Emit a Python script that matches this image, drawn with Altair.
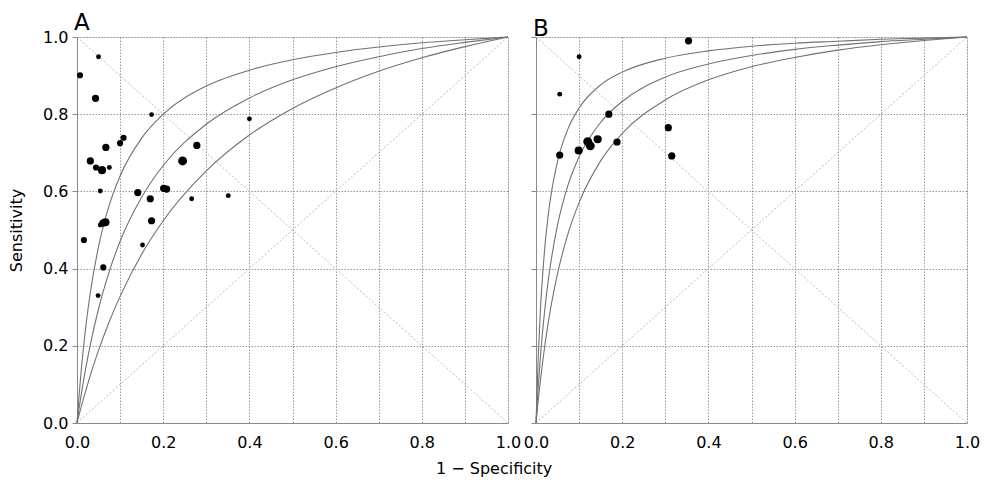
import altair as alt
import pandas as pd

# ---------------- data ----------------
# Panel A: study estimates (1 - specificity, sensitivity, relative weight)
a_fpr = [0.007, 0.050, 0.043, 0.173, 0.400, 0.108, 0.100, 0.067, 0.278, 0.031,
         0.245, 0.044, 0.058, 0.075, 0.054, 0.141, 0.201, 0.208, 0.170, 0.266,
         0.351, 0.173, 0.066, 0.060, 0.054, 0.016, 0.152, 0.061, 0.049]
a_sens = [0.901, 0.949, 0.841, 0.799, 0.788, 0.739, 0.725, 0.714, 0.719, 0.679,
          0.679, 0.662, 0.655, 0.662, 0.601, 0.597, 0.608, 0.606, 0.581, 0.581,
          0.589, 0.524, 0.520, 0.518, 0.513, 0.474, 0.461, 0.403, 0.330]
a_weight = [2, 1, 3, 1, 1, 2, 2, 3, 3, 3,
            5, 2, 4, 1, 1, 3, 3, 3, 3, 1,
            1, 3, 4, 3, 1, 2, 1, 2, 1]

# Panel B: study estimates
b_fpr = [0.354, 0.100, 0.055, 0.169, 0.307, 0.143, 0.120, 0.126, 0.188, 0.099, 0.055, 0.315]
b_sens = [0.990, 0.949, 0.852, 0.800, 0.765, 0.735, 0.729, 0.718, 0.728, 0.706, 0.694, 0.692]
b_weight = [3, 1, 1, 3, 3, 4, 5, 5, 3, 4, 3, 3]

# SROC curves (sensitivity read at these 1 - specificity values)
curve_fpr = [0, 0.005, 0.01, 0.02, 0.03, 0.05, 0.075, 0.1, 0.15, 0.2,
             0.3, 0.4, 0.5, 0.6, 0.7, 0.8, 0.9, 1.0]
a_curve_upper = [0, 0.074, 0.139, 0.246, 0.331, 0.457, 0.565, 0.640, 0.738, 0.800,
                 0.873, 0.914, 0.941, 0.960, 0.974, 0.985, 0.993, 1.0]
a_curve_mid = [0, 0.039, 0.075, 0.140, 0.198, 0.296, 0.393, 0.471, 0.585, 0.667,
               0.774, 0.842, 0.889, 0.923, 0.949, 0.970, 0.986, 1.0]
a_curve_lower = [0, 0.022, 0.043, 0.082, 0.120, 0.188, 0.263, 0.328, 0.437, 0.524,
                 0.653, 0.746, 0.815, 0.868, 0.911, 0.946, 0.975, 1.0]
b_curve_upper = [0, 0.167, 0.288, 0.449, 0.553, 0.678, 0.764, 0.816, 0.876, 0.909,
                 0.945, 0.964, 0.976, 0.984, 0.989, 0.994, 0.997, 1.0]
b_curve_mid = [0, 0.091, 0.168, 0.290, 0.382, 0.513, 0.619, 0.690, 0.779, 0.833,
               0.896, 0.930, 0.952, 0.968, 0.979, 0.988, 0.994, 1.0]
b_curve_lower = [0, 0.057, 0.108, 0.197, 0.271, 0.387, 0.493, 0.571, 0.679, 0.750,
                 0.837, 0.889, 0.923, 0.947, 0.966, 0.980, 0.991, 1.0]

# chance diagonal and its counter-diagonal
diag_x = [0, 1]
diag_y = [0, 1]
anti_y = [1, 0]

tick_values = [0.0, 0.1, 0.2, 0.3, 0.4, 0.5, 0.6, 0.7, 0.8, 0.9, 1.0]
panel_labels = ["A", "B"]
x_title = "1 \u2212 Specificity"
y_title = "Sensitivity"

# ---------------- chart ----------------
FONT = "DejaVu Sans"
FRAME = "#8a8a8a"
GRID = "#8f8f8f"
W, H = 431, 386

label_expr = "round(datum.value * 10) % 2 == 0 ? format(datum.value, '.1f') : ''"


def panel(label, fpr, sens, weight, curves, first):
    pts = pd.DataFrame({"fpr": fpr, "sens": sens, "w": weight})
    rows = []
    for name, ys in curves.items():
        for xv, yv in zip(curve_fpr, ys):
            rows.append({"curve": name, "fpr": xv, "sens": yv})
    cdf = pd.DataFrame(rows)
    ddf = pd.DataFrame({"x": diag_x * 2, "y": diag_y + anti_y, "d": ["diag", "diag", "anti", "anti"]})

    xaxis = alt.Axis(values=tick_values, grid=True, gridDash=[1.5, 1.5], gridColor=GRID,
                     gridWidth=0.9, ticks=False, labelExpr=label_expr, labelPadding=11,
                     labelFlush=False, labelFont=FONT, labelFontSize=16, labelColor="#000",
                     domainColor=FRAME, title=None)
    if first:
        yaxis = alt.Axis(values=tick_values, grid=True, gridDash=[1.5, 1.5], gridColor=GRID,
                         gridWidth=0.9, ticks=True, tickSize=5, tickColor=FRAME,
                         labelExpr=label_expr, labelPadding=4, labelFlush=False, labelFont=FONT,
                         labelFontSize=16, labelColor="#000", domainColor=FRAME,
                         title=y_title, titleFont=FONT, titleFontSize=16,
                         titleFontWeight="normal", titleColor="#000", titlePadding=18)
    else:
        yaxis = alt.Axis(values=tick_values, grid=True, gridDash=[1.5, 1.5], gridColor=GRID,
                         gridWidth=0.9, ticks=True, tickSize=5, tickColor=FRAME,
                         labels=False, domainColor=FRAME, title=None)

    xs = alt.Scale(domain=[0, 1], nice=False, zero=False)
    ys = alt.Scale(domain=[0, 1], nice=False, zero=False)

    diag = alt.Chart(ddf).mark_line(color="#a8a8a8", strokeWidth=0.8, strokeDash=[2, 2]).encode(
        x=alt.X("x:Q", scale=xs, axis=xaxis),
        y=alt.Y("y:Q", scale=ys, axis=yaxis),
        detail="d:N",
    )
    lines = alt.Chart(cdf).mark_line(color="#727272", strokeWidth=1.1, interpolate="monotone").encode(
        x=alt.X("fpr:Q", scale=xs),
        y=alt.Y("sens:Q", scale=ys),
        detail="curve:N",
    )
    dots = alt.Chart(pts).mark_circle(color="#000000", opacity=1).encode(
        x=alt.X("fpr:Q", scale=xs),
        y=alt.Y("sens:Q", scale=ys),
        size=alt.Size("w:Q", scale=alt.Scale(domain=[1, 5], range=[24, 80]), legend=None),
    )
    return alt.layer(diag, lines, dots).properties(
        width=W, height=H,
        title=alt.TitleParams(label, anchor="start", frame="group", fontSize=23,
                              fontWeight="normal", font=FONT, color="#000", offset=-6, dx=-3),
    )


pa = panel(panel_labels[0], a_fpr, a_sens, a_weight,
           {"u": a_curve_upper, "m": a_curve_mid, "l": a_curve_lower}, True)
pb = panel(panel_labels[1], b_fpr, b_sens, b_weight,
           {"u": b_curve_upper, "m": b_curve_mid, "l": b_curve_lower}, False)

chart = alt.hconcat(pa, pb, spacing=28, bounds="flush").properties(
    title=alt.TitleParams(x_title, orient="bottom", anchor="middle", fontSize=16,
                          fontWeight="normal", font=FONT, color="#000", offset=10),
    padding={"top": 3, "left": 0, "right": 0, "bottom": 0},
).configure_view(stroke=FRAME, strokeWidth=1).configure(background="#ffffff")

chart.save("out.html", embed_options={"renderer": "svg", "actions": False})
